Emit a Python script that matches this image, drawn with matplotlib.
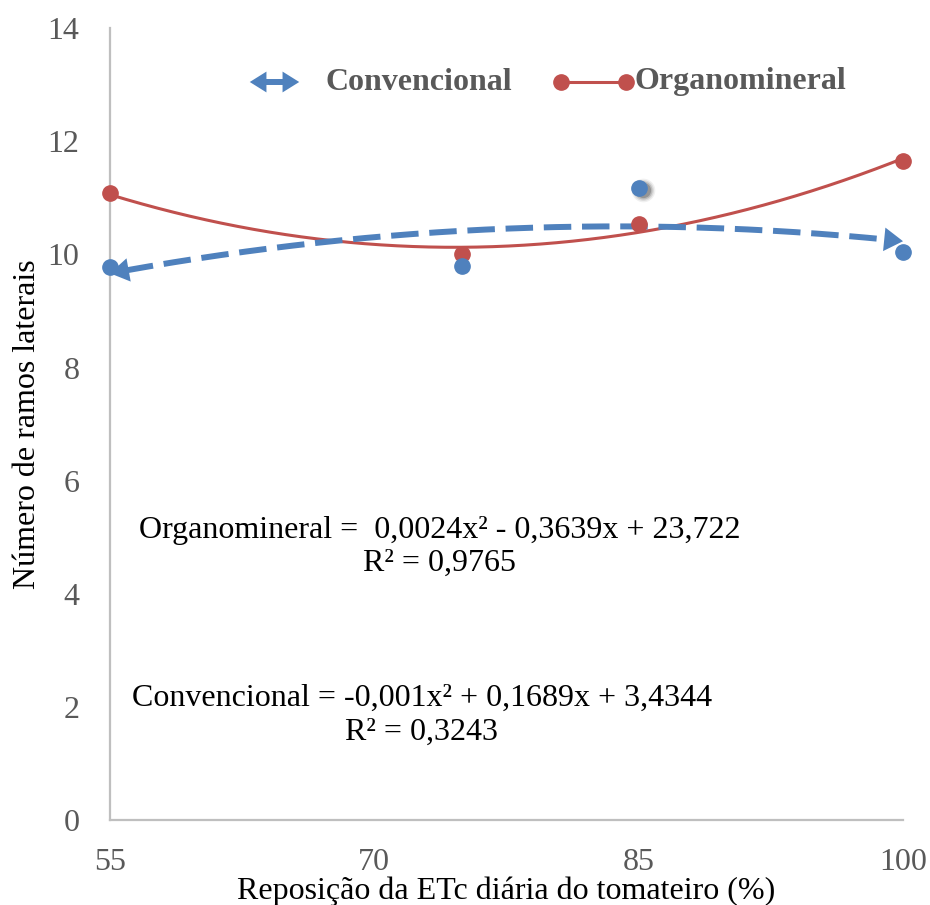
import matplotlib.pyplot as plt
import numpy as np
from matplotlib.lines import Line2D
from matplotlib.patches import FancyArrowPatch
from matplotlib.transforms import ScaledTranslation

plt.rcParams['font.family'] = ['Liberation Serif', 'DejaVu Serif']

# irrigation levels (% of daily ETc) and number of lateral branches
reposicao = [55, 75, 85, 100]
convencional = [9.78, 9.80, 11.18, 10.05]
organomineral = [11.08, 10.00, 10.53, 11.66]

x_ticks = [55, 70, 85, 100]
y_ticks = [0, 2, 4, 6, 8, 10, 12, 14]

eq_org = "Organomineral =  0,0024x² - 0,3639x + 23,722"
r2_org = "R² = 0,9765"
eq_conv = "Convencional = -0,001x² + 0,1689x + 3,4344"
r2_conv = "R² = 0,3243"

blue = '#4F81BD'
red = '#C0504D'
grey = '#595959'
axis_grey = '#BFBFBF'
fs = 23
head = '-|>,head_length=0.8,head_width=0.5'

fig = plt.figure(figsize=(9.3, 9.05), dpi=100)
ax = fig.add_axes([0.1183, 0.0939, 0.8527, 0.875])

# quadratic trend lines
xs = np.linspace(55, 100, 200)
p_conv = np.polyfit(reposicao, convencional, 2)
p_org = np.polyfit(reposicao, organomineral, 2)
y_conv = np.polyval(p_conv, xs)
y_org = np.polyval(p_org, xs)

ax.plot(xs, y_org, color=red, lw=2.2, zorder=3)
ax.plot(xs[4:-4], y_conv[4:-4], color=blue, lw=4.3, dashes=(4.6, 1.8),
        zorder=4)
for i0, i1 in [(6, 0), (-7, -1)]:
    ax.annotate('', xy=(xs[i1], y_conv[i1]), xytext=(xs[i0], y_conv[i0]),
                arrowprops=dict(arrowstyle=head, color=blue, lw=0,
                                mutation_scale=17, shrinkA=0, shrinkB=0),
                zorder=4)

# blurred shadow under the highest Convencional point
for ms, a in [(17, 0.08), (15, 0.12), (13, 0.2), (11, 0.3)]:
    ax.plot(reposicao[2], convencional[2], 'o', ms=ms, color='#404040',
            alpha=a, mew=0,
            transform=ax.transData + ScaledTranslation(
                3 / 72, -2 / 72, fig.dpi_scale_trans), zorder=2)

ax.plot(reposicao, organomineral, 'o', ms=11, color=red, zorder=5,
        clip_on=False)
ax.plot(reposicao, convencional, 'o', ms=11, color=blue, zorder=5,
        clip_on=False)

ax.set_xlim(55, 100)
ax.set_ylim(0, 14)
ax.set_xticks(x_ticks)
ax.set_yticks(y_ticks)
ax.tick_params(length=0, labelsize=fs, labelcolor=grey)
ax.tick_params(axis='x', pad=20)
ax.tick_params(axis='y', pad=22)
for side in ['top', 'right']:
    ax.spines[side].set_visible(False)
for side in ['left', 'bottom']:
    ax.spines[side].set_color(axis_grey)
    ax.spines[side].set_linewidth(1.6)

ax.set_xlabel("Reposição da ETc diária do tomateiro (%)", fontsize=fs,
              labelpad=0)
ax.set_ylabel("Número de ramos laterais", fontsize=fs, labelpad=4)

# equations
ax.text(0.416, 0.366, eq_org, transform=ax.transAxes, ha='center',
        va='center', fontsize=fs)
ax.text(0.416, 0.3245, r2_org, transform=ax.transAxes, ha='center',
        va='center', fontsize=fs)
ax.text(0.393, 0.154, eq_conv, transform=ax.transAxes, ha='center',
        va='center', fontsize=fs)
ax.text(0.393, 0.111, r2_conv, transform=ax.transAxes, ha='center',
        va='center', fontsize=fs)

# legend drawn by hand
ly = 1 - 82 / 905
for x0, x1 in [(262, 277), (281, 288)]:
    fig.add_artist(Line2D([x0 / 930, x1 / 930], [ly, ly], color=blue,
                          lw=4.3, transform=fig.transFigure))
for x0, x1 in [(277, 247), (281, 302)]:
    fig.add_artist(FancyArrowPatch(
        (x0 / 930, ly), (x1 / 930, ly), transform=fig.transFigure,
        arrowstyle=head, mutation_scale=15, color=blue, lw=0))
fig.text(325 / 930, ly, "Convencional", fontsize=fs, fontweight='bold',
         color=grey, va='center')
fig.add_artist(Line2D([561 / 930, 626 / 930], [ly, ly], color=red, lw=2.2,
                      marker='o', ms=11, transform=fig.transFigure))
fig.text(634 / 930, ly, "Organomineral", fontsize=fs, fontweight='bold',
         color=grey, va='center')

fig.savefig('out.png', dpi=100)
